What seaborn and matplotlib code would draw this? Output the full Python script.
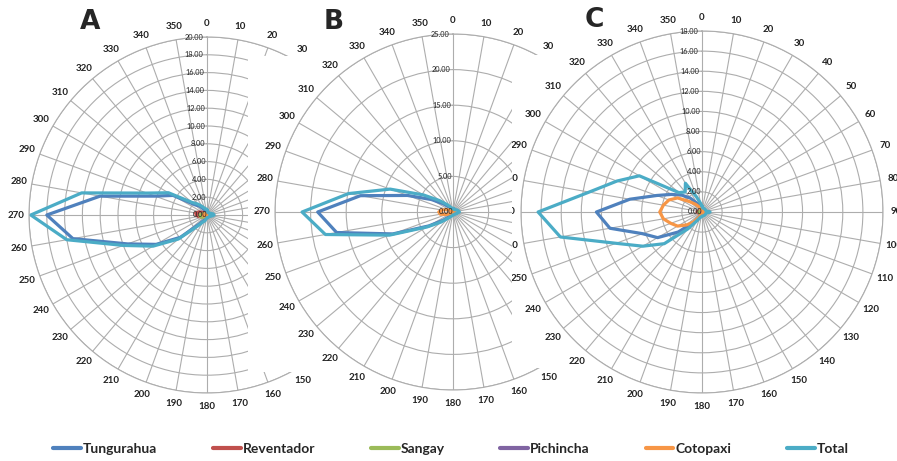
import numpy as np
import pandas as pd
import matplotlib
matplotlib.use("Agg")
import matplotlib.pyplot as plt
import seaborn as sns
from matplotlib.lines import Line2D
from matplotlib.patches import Rectangle
from matplotlib.transforms import Bbox, TransformedBbox

# --- data -------------------------------------------------------------
angles = list(range(0, 360, 10))
series_names = ["Tungurahua", "Reventador", "Sangay", "Pichincha", "Cotopaxi", "Total"]
series_colors = ["#4F81BD", "#C0504D", "#9BBB59", "#8064A2", "#F79646", "#4BACC6"]

# panel A (0 .. 350 deg, step 10)
a_tungurahua = [0.3, 0.2, 0.1, 0.1, 0.1, 0.1, 0.1, 0.1, 0.1, 0.2,
                0.1, 0.1, 0.1, 0.1, 0.1, 0.1, 0.1, 0.1, 0.1, 0.2,
                0.4, 0.7, 1.3, 3.9, 6.6, 9.5, 15.3, 18.0, 12.2, 6.2,
                4.4, 1.8, 1.3, 0.8, 0.5, 0.4]
a_reventador = [0.1, 0.1, 0.1, 0.1, 0.1, 0.1, 0.1, 0.1, 0.1, 0.1,
                0.1, 0.1, 0.1, 0.1, 0.1, 0.1, 0.1, 0.1, 0.1, 0.1,
                0.1, 0.1, 0.1, 0.2, 0.3, 0.6, 1.0, 1.2, 1.3, 1.0,
                0.6, 0.3, 0.2, 0.1, 0.1, 0.1]
a_sangay = [0.05, 0.05, 0.05, 0.05, 0.05, 0.05, 0.05, 0.05, 0.05, 0.05,
            0.05, 0.05, 0.05, 0.05, 0.05, 0.05, 0.05, 0.05, 0.05, 0.05,
            0.05, 0.05, 0.1, 0.3, 0.5, 0.7, 0.8, 0.8, 0.6, 0.4,
            0.2, 0.1, 0.05, 0.05, 0.05, 0.05]
a_pichincha = [0.05, 0.05, 0.05, 0.05, 0.05, 0.05, 0.05, 0.05, 0.05, 0.05,
               0.05, 0.05, 0.05, 0.05, 0.05, 0.05, 0.05, 0.05, 0.05, 0.05,
               0.05, 0.05, 0.05, 0.05, 0.05, 0.05, 0.1, 0.1, 0.1, 0.05,
               0.05, 0.05, 0.05, 0.05, 0.05, 0.05]
a_cotopaxi = [0.15, 0.15, 0.15, 0.15, 0.15, 0.15, 0.15, 0.15, 0.15, 0.15,
              0.15, 0.15, 0.15, 0.15, 0.15, 0.15, 0.15, 0.15, 0.15, 0.15,
              0.15, 0.15, 0.15, 0.2, 0.2, 0.3, 0.4, 0.4, 0.4, 0.3,
              0.2, 0.15, 0.15, 0.15, 0.15, 0.15]
a_total = [0.6, 0.4, 0.3, 0.3, 0.3, 0.3, 0.4, 0.5, 0.7, 0.8,
           0.6, 0.4, 0.3, 0.3, 0.3, 0.3, 0.3, 0.3, 0.3, 0.4,
           0.7, 0.9, 1.6, 4.2, 7.0, 10.0, 16.0, 19.8, 14.3, 7.2,
           5.0, 2.2, 1.6, 1.1, 0.8, 0.7]

# panel B
b_tungurahua = [0.2, 0.2, 0.2, 0.2, 0.2, 0.2, 0.2, 0.2, 0.2, 0.2,
                0.2, 0.2, 0.2, 0.2, 0.2, 0.2, 0.2, 0.2, 0.2, 0.3,
                0.4, 0.5, 0.9, 1.8, 3.9, 9.0, 16.6, 19.0, 13.2, 6.8,
                3.5, 1.8, 1.0, 0.5, 0.3, 0.2]
b_reventador = [0.05] * 36
b_sangay = [0.05] * 36
b_pichincha = [0.05] * 36
b_cotopaxi = [0.2, 0.2, 0.2, 0.2, 0.2, 0.2, 0.2, 0.2, 0.2, 0.2,
              0.2, 0.2, 0.2, 0.2, 0.2, 0.2, 0.2, 0.2, 0.2, 0.2,
              0.2, 0.2, 0.2, 0.3, 0.5, 1.0, 1.8, 2.0, 1.6, 1.0,
              0.5, 0.3, 0.2, 0.2, 0.2, 0.2]
b_total = [0.5, 0.5, 0.4, 0.4, 0.4, 0.5, 0.6, 0.7, 0.8, 0.9,
           0.7, 0.6, 0.5, 0.4, 0.4, 0.4, 0.4, 0.4, 0.4, 0.5,
           0.6, 0.8, 1.2, 2.2, 4.2, 9.5, 18.2, 21.2, 14.9, 9.4,
           4.8, 2.5, 1.4, 0.9, 0.6, 0.5]

# panel C
c_tungurahua = [0.15, 0.15, 0.15, 0.15, 0.15, 0.15, 0.15, 0.15, 0.15, 0.15,
                0.15, 0.15, 0.15, 0.15, 0.15, 0.15, 0.15, 0.15, 0.15, 0.2,
                0.3, 0.6, 1.5, 3.1, 5.1, 6.3, 9.3, 10.5, 7.3, 4.8,
                3.5, 2.6, 1.8, 1.0, 0.6, 0.3]
c_reventador = [0.05, 0.05, 0.05, 0.05, 0.05, 0.05, 0.05, 0.05, 0.05, 0.05,
                0.05, 0.05, 0.05, 0.05, 0.05, 0.05, 0.05, 0.05, 0.05, 0.05,
                0.05, 0.05, 0.05, 0.1, 0.2, 0.3, 0.4, 0.5, 0.4, 0.3,
                0.1, 0.05, 0.05, 0.05, 0.05, 0.05]
c_sangay = [0.05, 0.05, 0.05, 0.05, 0.05, 0.05, 0.05, 0.05, 0.05, 0.05,
            0.05, 0.05, 0.05, 0.05, 0.05, 0.05, 0.05, 0.05, 0.05, 0.05,
            0.05, 0.05, 0.05, 0.1, 0.2, 0.25, 0.3, 0.3, 0.25, 0.2,
            0.1, 0.05, 0.05, 0.05, 0.05, 0.05]
c_pichincha = [0.05] * 36
c_cotopaxi = [0.15, 0.15, 0.15, 0.15, 0.15, 0.15, 0.15, 0.15, 0.15, 0.15,
              0.15, 0.15, 0.15, 0.15, 0.15, 0.15, 0.15, 0.15, 0.15, 0.15,
              0.3, 0.6, 1.3, 2.0, 2.8, 3.3, 3.9, 4.2, 3.9, 3.5,
              2.8, 1.6, 1.0, 0.6, 0.3, 0.2]
c_total = [0.6, 0.4, 0.4, 0.4, 0.4, 0.4, 0.4, 0.4, 0.5, 0.8,
           0.5, 0.4, 0.4, 0.4, 0.4, 0.4, 0.4, 0.4, 0.4, 0.5,
           0.6, 1.0, 2.2, 4.9, 6.8, 9.1, 14.3, 16.3, 11.4, 9.0,
           7.2, 3.0, 2.6, 3.3, 1.6, 0.9]

panel_a = [a_tungurahua, a_reventador, a_sangay, a_pichincha, a_cotopaxi, a_total]
panel_b = [b_tungurahua, b_reventador, b_sangay, b_pichincha, b_cotopaxi, b_total]
panel_c = [c_tungurahua, c_reventador, c_sangay, c_pichincha, c_cotopaxi, c_total]

# --- style ------------------------------------------------------------
sns.set_style("white")
plt.rcParams["font.family"] = ["Lato", "DejaVu Sans"]

W, H = 897, 461
fig = plt.figure(figsize=(W / 100, H / 100), dpi=100)
grid_color = "#adadad"


def px_rect(x0, y0, x1, y1):
    # pixel box (top-left origin) -> figure fraction rect
    return [x0 / W, 1 - y1 / H, (x1 - x0) / W, (y1 - y0) / H]


def long_table(values):
    rows = []
    for name, vals in zip(series_names, values):
        closed = list(vals) + [vals[0]]
        for ang, v in zip(angles + [360], closed):
            rows.append({"theta": np.deg2rad(ang), "value": v, "series": name})
    return pd.DataFrame(rows)


def draw_panel(cx, cy, radius, rmax, step, values, zorder, label_clip=None):
    ax = fig.add_axes(px_rect(cx - radius, cy - radius, cx + radius, cy + radius),
                      projection="polar")
    ax.set_zorder(zorder)
    ax.set_theta_zero_location("N")
    ax.set_theta_direction(-1)
    sns.lineplot(data=long_table(values), x="theta", y="value", hue="series",
                 palette=series_colors, hue_order=series_names, sort=False,
                 estimator=None, linewidth=2.3, legend=False, ax=ax)
    ax.set_ylim(0, rmax)
    rings = np.arange(step, rmax + step / 2, step)
    ax.set_yticks(rings)
    ax.set_xticks(np.deg2rad(angles))
    ax.set_xticklabels([])
    ax.set_yticklabels([])
    ax.tick_params(length=0)
    ax.set_xlabel("")
    ax.set_ylabel("")
    ax.grid(True, color=grid_color, linewidth=0.8)
    ax.spines["polar"].set_color(grid_color)
    ax.spines["polar"].set_linewidth(0.8)
    for ang in angles:
        t = ax.text(np.deg2rad(ang), rmax * 1.075, str(ang), ha="center", va="center",
                    fontsize=7, fontweight="bold", color="#222222")
        if label_clip is not None:
            t.set_clip_box(label_clip)
            t.set_clip_on(True)
    for r in np.concatenate([[0], rings]):
        ax.text(np.deg2rad(-1.2), r, f"{r:.2f}", ha="right", va="center",
                fontsize=5.3, color="#222222")
    return ax


def white_box(x0, y0, x1, y1, zorder):
    fig.add_artist(Rectangle((x0 / W, 1 - y1 / H), (x1 - x0) / W, (y1 - y0) / H,
                             transform=fig.transFigure, facecolor="white",
                             edgecolor="none", zorder=zorder))


draw_panel(207, 215, 178, 20, 2, panel_a, zorder=1)
white_box(248, 56, 520, 372, zorder=2)
draw_panel(453, 212, 178, 25, 5, panel_b, zorder=3)
white_box(512, 55, W, 368, zorder=4)
clip_c = TransformedBbox(Bbox([[512 / W, 0], [1, 1]]), fig.transFigure)
draw_panel(702, 212, 181, 18, 2, panel_c, zorder=5, label_clip=clip_c)

for letter, x, y in [("A", 90, 22), ("B", 334, 22), ("C", 594, 20)]:
    fig.text(x / W, 1 - y / H, letter, ha="center", va="center", fontsize=19,
             fontweight="heavy", family="DejaVu Sans", zorder=10)

handles = [Line2D([0], [0], color=c, linewidth=3) for c in series_colors]
leg = fig.legend(handles, series_names, loc="center", bbox_to_anchor=(451 / W, 1 - 449 / H),
                 ncol=6, frameon=False, handlelength=2.0, handletextpad=0.15,
                 columnspacing=4.0, prop={"family": "Lato", "weight": "bold", "size": 10})
leg.set_zorder(10)

fig.savefig("out.png", dpi=100)
